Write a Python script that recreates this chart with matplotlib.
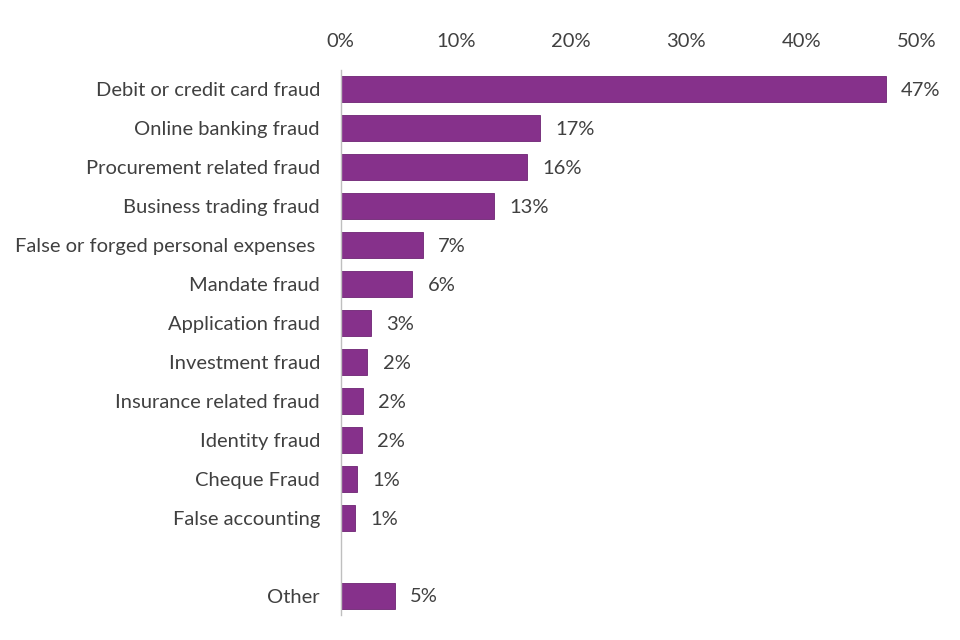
import matplotlib
matplotlib.use("Agg")
import matplotlib.pyplot as plt
from matplotlib.ticker import FuncFormatter

categories = [
    "Debit or credit card fraud",
    "Online banking fraud",
    "Procurement related fraud",
    "Business trading fraud",
    "False or forged personal expenses ",
    "Mandate fraud",
    "Application fraud",
    "Investment fraud",
    "Insurance related fraud",
    "Identity fraud",
    "Cheque Fraud",
    "False accounting",
    "",
    "Other",
]
values = [47.3, 17.3, 16.2, 13.3, 7.1, 6.2, 2.6, 2.3, 1.9, 1.8, 1.4, 1.2, None, 4.7]
xticks = [0, 10, 20, 30, 40, 50]

plt.rcParams['font.family'] = ['Lato', 'DejaVu Sans']
text_color = "#404040"
bar_color = "#86318B"
fs = 14.5

fig = plt.figure(figsize=(9.6, 6.4), dpi=100)
ax = fig.add_axes([0.355, 0.039, 0.6, 0.852])

for i, (cat, v) in enumerate(zip(categories, values)):
    if v is None:
        continue
    ax.barh(i, v, height=0.67, color=bar_color, edgecolor="#6E2473", linewidth=0.6)
    ax.annotate(f"{v:.0f}%", xy=(v, i), xytext=(11, -1), textcoords="offset points",
                va="center", ha="left", fontsize=fs, color=text_color)

ax.set_yticks(range(len(categories)))
ax.set_yticklabels(categories, fontsize=fs, color=text_color)
ax.set_ylim(len(categories) - 0.5, -0.5)
ax.set_xlim(0, 50)
ax.set_xticks(xticks)
ax.xaxis.set_major_formatter(FuncFormatter(lambda x, p: f"{x:.0f}%"))
ax.xaxis.tick_top()
ax.tick_params(axis="x", length=0, labelsize=fs, colors=text_color, pad=14)
ax.tick_params(axis="y", length=0, pad=15)
for s in ["top", "right", "bottom"]:
    ax.spines[s].set_visible(False)
ax.spines["left"].set_color("#BFBFBF")
ax.spines["left"].set_linewidth(1.0)

fig.savefig("out.png", dpi=100, facecolor="white")
